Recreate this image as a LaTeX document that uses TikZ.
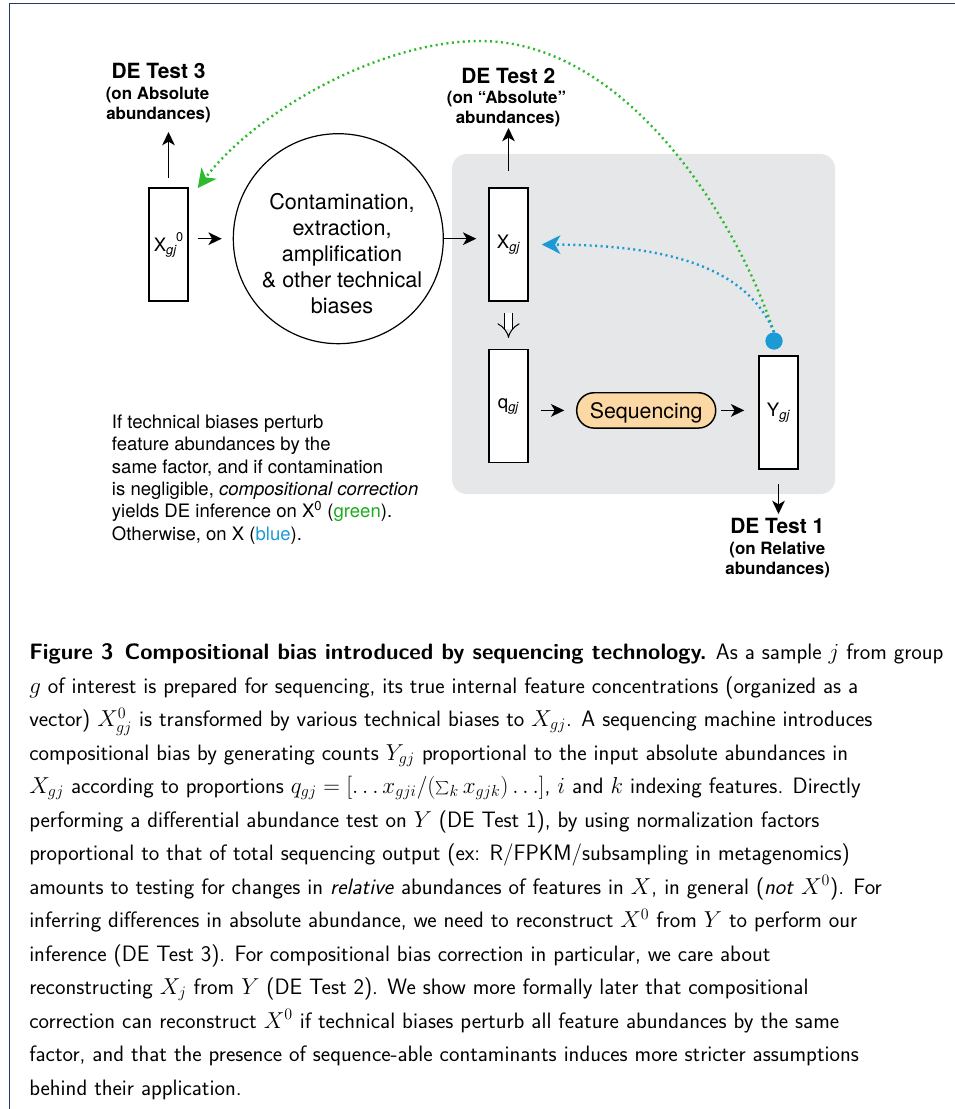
\documentclass[tikz,border=0pt]{standalone}
\usepackage{fontspec}
\newfontfamily\hv{TeX Gyre Heros}
\usetikzlibrary{arrows.meta}
\definecolor{framecol}{HTML}{1F3B6B}
\definecolor{panelgray}{HTML}{E6E7E8}
\definecolor{seqfill}{HTML}{FCD8A4}
\definecolor{grn}{HTML}{2DBA2D}
\definecolor{grntext}{HTML}{1DAA1D}
\definecolor{blu}{HTML}{1B9AD6}
\newcommand\lsub[1]{\textsubscript{\itshape #1}}
\begin{document}
\begin{tikzpicture}[x=0.75pt,y=-0.75pt,
  vbox/.style={draw, line width=1.1pt, fill=white, minimum width=29.25pt, minimum height=85pt, inner sep=0pt, font=\hv\fontsize{13.9}{16}\selectfont},
  arr/.style={line width=1.1pt, -{Stealth[length=10pt,width=9.5pt,inset=2.8pt]}},
  dlab/.style={font=\hv\bfseries\fontsize{15.7}{18}\selectfont, anchor=base, inner sep=0pt},
  dsub/.style={font=\hv\bfseries\fontsize{12.7}{15}\selectfont, anchor=base, inner sep=0pt},
  ctext/.style={font=\hv\fontsize{16.2}{19.4}\selectfont, anchor=base, inner sep=0pt},
  para/.style={font=\hv\fontsize{13.9}{16.7}\selectfont, anchor=base west, inner sep=0pt},
  captext/.style={font=\sffamily\fontsize{16.72}{25}\selectfont, anchor=base west, inner sep=0pt},
  dotline/.style={line width=1.8pt, dash pattern=on 1.5pt off 2.6pt},
  headtip/.style={-{Stealth[length=14pt,width=14pt,inset=4pt]}}
]
\useasboundingbox (0,0) rectangle (955,1109);
% frame
\draw[framecol, line width=1.1pt] (9.6,1109) -- (9.6,3.3) -- (955,3.3);

% gray panel
\node[fill=panelgray, rounded corners=11pt, minimum width=287.25pt, minimum height=255pt, inner sep=0pt] (panel) at (643.5,324) {};

% boxes
\node[vbox] (x0) at (168.5,244.5) {\raisebox{3pt}{X\lsub{gj}\kern-0.5pt\raisebox{1.05ex}{\fontsize{9.5}{10}\selectfont 0}}};
\node[vbox] (xgj) at (508.5,244.5) {X\lsub{gj}};
\node[vbox] (qgj) at (508.5,406) {q\lsub{gj}};
\node[vbox] (ygj) at (778.5,412.5) {Y\lsub{gj}};

% circle
\node[draw, circle, line width=0.9pt, minimum size=157.5pt, inner sep=0pt] (bias) at (338.3,238.7) {};
\node[ctext] (c1) at (342,210) {Contamination,};
\node[ctext] (c2) at (342,236) {extraction,};
\node[ctext] (c3) at (342,261.7) {amplification};
\node[ctext] (c4) at (342,287.3) {\& other technical};
\node[ctext] (c5) at (342,313.3) {biases};

% sequencing
\node[draw, fill=seqfill, line width=1.1pt, rounded corners=13pt, minimum width=104.25pt, minimum height=26.5pt, inner sep=0pt, text depth=0pt, font=\hv\fontsize{16}{19}\selectfont] (seq) at (646.2,410.4) {Sequencing};

% DE test labels
\node[dlab] (t3a) at (158.5,79) {DE Test 3};
\node[dsub] (t3b) at (157.5,100) {(on Absolute};
\node[dsub] (t3c) at (158.5,120) {abundances)};
\node[dlab] (t2a) at (508.3,83.3) {DE Test 2};
\node[dsub] (t2b) at (506.5,104) {(on “Absolute”};
\node[dsub] (t2c) at (508,124) {abundances)};
\node[dlab] (t1a) at (777.3,533.3) {DE Test 1};
\node[dsub] (t1b) at (777.3,554.3) {(on Relative};
\node[dsub] (t1c) at (777.7,574.3) {abundances)};
\coordinate (t3end) at (168.5,132);
\coordinate (t2end) at (508.5,128);
\coordinate (t1end) at (778.5,514);
\coordinate (gpeak) at (480,41);

% black connectors
\draw[arr, shorten <=6.75pt] (x0.north) -- (t3end);
\draw[arr, shorten <=12pt] (xgj.north) -- (t2end);
\draw[arr, shorten <=10.5pt] (ygj.south) -- (t1end);
\draw[arr, shorten <=6.75pt, shorten >=8.25pt] (x0.east |- bias.west) -- (bias.west);
\draw[arr, shorten >=9pt] (bias.east) -- (bias.east -| xgj.west);
\draw[arr, shorten <=9pt, shorten >=8.75pt] (seq.west -| qgj.east) -- (seq.west);
\draw[arr, shorten <=3.75pt, shorten >=10.5pt] (seq.east) -- (seq.east -| ygj.west);
\draw[line width=0.75pt, double distance=5.25pt, -{Implies}, shorten <=8.25pt, shorten >=8pt] (xgj.south) -- (qgj.north);

% dotted curves
\node[circle, fill=blu, minimum size=12.75pt, inner sep=0pt] (dot) at (774,341) {};
\draw[grn, dotline, headtip] (dot.north) .. controls (735,215) and (625,41) .. (gpeak)
   .. controls (380,41) and (255,112) .. ([shift={(6.75pt,-0.75pt)}]x0.north east);
\draw[blu, dotline, headtip] (dot.north) .. controls (745,262) and (655,245) .. ([xshift=9.75pt]xgj.east);
\node[circle, fill=blu, minimum size=12.75pt, inner sep=0pt] (dottop) at (dot) {};

% left paragraph
\node[para] (p1) at (111.7,428.3) {If technical biases perturb};
\node[para] (p2) at (111.7,450.6) {feature abundances by the};
\node[para] (p3) at (111.7,473) {same factor, and if contamination};
\node[para] (p4) at (111.7,495.3) {is negligible, \textit{compositional correction}};
\node[para] (p5) at (111.7,517.7) {yields DE inference on X\textsuperscript{0} ({\color{grntext}green}).};
\node[para] (p6) at (111.7,540) {Otherwise, on X ({\color{blu}blue}).};

% caption
\node[captext] (l1) at (29,659.5) {\textbf{Figure~3\enspace Compositional bias introduced by sequencing technology.} As a sample $j$ from group};
\node[captext] (l2) at (29,693) {$g$ of interest is prepared for sequencing, its true internal feature concentrations (organized as a};
\node[captext] (l3) at (29,726.5) {vector) $X^0_{gj}$ is transformed by various technical biases to $X_{gj}$. A sequencing machine introduces};
\node[captext] (l4) at (29,760) {compositional bias by generating counts $Y_{gj}$ proportional to the input absolute abundances in};
\node[captext] (l5) at (29,793.5) {$X_{gj}$ according to proportions $q_{gj} = [\ldots x_{gji}/(\sum_k x_{gjk})\ldots]$, $i$ and $k$ indexing features. Directly};
\node[captext] (l6) at (29,827) {performing a differential abundance test on $Y$ (DE Test 1), by using normalization factors};
\node[captext] (l7) at (29,860.5) {proportional to that of total sequencing output (ex: R/FPKM/subsampling in metagenomics)};
\node[captext] (l8) at (29,894) {amounts to testing for changes in \textit{relative} abundances of features in $X$, in general (\textit{not} $X^0$). For};
\node[captext] (l9) at (29,927.5) {inferring differences in absolute abundance, we need to reconstruct $X^0$ from $Y$ to perform our};
\node[captext] (l10) at (29,961) {inference (DE Test 3). For compositional bias correction in particular, we care about};
\node[captext] (l11) at (29,994.5) {reconstructing $X_j$ from $Y$ (DE Test 2). We show more formally later that compositional};
\node[captext] (l12) at (29,1028) {correction can reconstruct $X^0$ if technical biases perturb all feature abundances by the same};
\node[captext] (l13) at (29,1061.5) {factor, and that the presence of sequence-able contaminants induces more stricter assumptions};
\node[captext] (l14) at (29,1095) {behind their application.};
\end{tikzpicture}
\end{document}
